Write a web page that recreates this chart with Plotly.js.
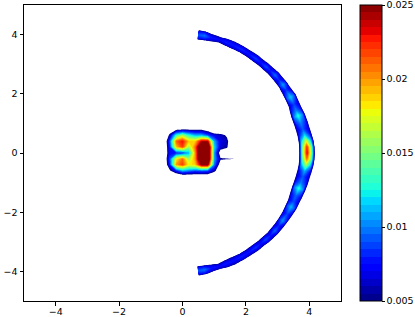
<!DOCTYPE html>
<html>
<head>
<meta charset="utf-8">
<script src="https://cdn.plot.ly/plotly-3.0.1.min.js"></script>
<style>html,body{margin:0;padding:0;background:#fff;}#chart{width:415px;height:317px;}</style>
</head>
<body>
<div id="chart"></div>
<script>
// ---------- DATA ----------
// central blob: values on a regular grid
const blobX = [-0.6,-0.4,-0.2,0,0.2,0.4,0.6,0.8,1.0,1.2,1.4,1.6,1.8];
const blobY = [-0.8,-0.6,-0.4,-0.2,0,0.2,0.4,0.6,0.8,1.0];
const blobZ = [
  [0,0,0.001,0.002,0.002,0.002,0.002,0.002,0.001,0,0,0,0],
  [0,0.0045,0.008,0.011,0.010,0.009,0.0095,0.009,0.006,0.002,0,0,0],
  [0.001,0.008,0.020,0.022,0.018,0.019,0.025,0.025,0.010,0.003,0.001,0,0],
  [0.001,0.009,0.018,0.021,0.016,0.020,0.030,0.030,0.011,0.0054,0.0053,0.0051,0],
  [0.001,0.0075,0.008,0.0085,0.011,0.020,0.030,0.030,0.011,0.003,0.002,0.001,0],
  [0.001,0.008,0.019,0.022,0.016,0.021,0.030,0.030,0.012,0.0065,0.0055,0.001,0],
  [0.001,0.009,0.021,0.023,0.019,0.019,0.024,0.024,0.011,0.0068,0.006,0.001,0],
  [0,0.006,0.013,0.016,0.013,0.011,0.011,0.009,0.007,0.0062,0.0045,0,0],
  [0,0.002,0.004,0.0045,0.0045,0.0045,0.0045,0.003,0,0,0,0,0],
  [0,0,0,0,0,0,0,0,0,0,0,0,0]
];

// arc: samples along the arc (angle in degrees), centre value, shoulder value,
// centre radius and half-width of the band
const arcTheta = [-83,-80,-77,-73,-70,-66,-62,-58,-54,-51,-48,-45,-42,-39,-36,-32,-28,-25,-22,-18,
  -15,-12,-9,-6,-3,0,3,6,9,12,15,19,22,25,29,33,36,39,42,45,48,51,54,58,62,66,70,73,77,80,83];
const arcPeak = [0.0092,0.0098,0.0080,0.0075,0.0080,0.0078,0.0082,0.0078,0.0086,0.0078,
  0.0090,0.0080,0.0095,0.0082,0.0105,0.0088,0.0112,0.0090,0.0095,0.0130,
  0.0100,0.0092,0.0110,0.0160,0.0210,0.0235,0.0225,0.0175,0.0118,0.0092,
  0.0100,0.0130,0.0100,0.0088,0.0116,0.0086,0.0106,0.0082,0.0096,0.0080,
  0.0090,0.0078,0.0087,0.0078,0.0084,0.0080,0.0082,0.0075,0.0080,0.0098,0.0092];
const arcShoulder = [0.0074,0.0078,0.0064,0.0060,0.0064,0.0062,0.0066,0.0062,0.0069,0.0062,
  0.0072,0.0064,0.0076,0.0066,0.0084,0.0070,0.0090,0.0072,0.0076,0.0100,
  0.0080,0.0070,0.0078,0.0110,0.0140,0.0150,0.0145,0.0115,0.0082,0.0070,
  0.0080,0.0100,0.0080,0.0070,0.0093,0.0069,0.0085,0.0066,0.0077,0.0064,
  0.0072,0.0062,0.0070,0.0062,0.0067,0.0064,0.0066,0.0060,0.0064,0.0078,0.0074];
const arcRadius = [4.01,4.01,4.0,4.0,3.99,3.98,3.97,3.95,3.94,3.93,
  3.93,3.93,3.92,3.91,3.90,3.89,3.88,3.87,3.86,3.86,
  3.87,3.88,3.90,3.92,3.93,3.93,3.93,3.92,3.90,3.88,
  3.87,3.86,3.86,3.88,3.90,3.90,3.92,3.92,3.93,3.93,
  3.93,3.93,3.94,3.95,3.97,3.98,3.99,4.0,4.0,4.02,4.02];
const arcHalf = [0.24,0.22,0.20,0.155,0.20,0.22,0.19,0.20,0.20,0.20,
  0.20,0.21,0.21,0.23,0.21,0.25,0.25,0.28,0.30,0.29,
  0.32,0.34,0.33,0.30,0.29,0.29,0.29,0.30,0.32,0.34,
  0.32,0.29,0.29,0.28,0.25,0.25,0.21,0.23,0.21,0.21,
  0.20,0.20,0.20,0.20,0.19,0.21,0.19,0.155,0.20,0.22,0.24];
const arcOffsets = [-1,-0.5,0,0.5,1];

const levelStart = 0.005, levelEnd = 0.025, levelStep = 0.0005;
const cbTickVals = [0.005,0.01,0.015,0.02,0.025];
const cbTickText = ['0.005','0.01','0.015','0.02','0.025'];
const xTicks = [-4,-2,0,2,4];
const yTicks = [-4,-2,0,2,4];

// ---------- COLOURS (jet, 40 discrete bands) ----------
function interp(pts, q){
  for (let i=1;i<pts.length;i++){
    if (q<=pts[i][0]){
      const [x0,y0]=pts[i-1],[x1,y1]=pts[i];
      return y0+(y1-y0)*(q-x0)/(x1-x0);
    }
  }
  return pts[pts.length-1][1];
}
function jet(q){
  const r=interp([[0,0],[0.35,0],[0.66,1],[0.89,1],[1,0.5]],q);
  const g=interp([[0,0],[0.125,0],[0.375,1],[0.64,1],[0.91,0],[1,0]],q);
  const b=interp([[0,0.5],[0.11,1],[0.34,1],[0.65,0],[1,0]],q);
  return 'rgb('+Math.round(r*255)+','+Math.round(g*255)+','+Math.round(b*255)+')';
}
const nBands = Math.round((levelEnd-levelStart)/levelStep);
const bandColors = [];
for (let k=0;k<nBands;k++) bandColors.push(jet((k+0.5)/nBands));

// contour fill colourscale: plotly maps band k to (k+1)/(nBands+1), below start to 0
const nc = nBands+1;
const contourScale = [[0,'#ffffff'],[0.5/nc,'#ffffff']];
for (let k=0;k<nBands;k++){
  contourScale.push([(k+0.5)/nc,bandColors[k]]);
  contourScale.push([Math.min(1,(k+1.5)/nc),bandColors[k]]);
}
contourScale.push([1,bandColors[nBands-1]]);

// colourbar colourscale: stepped
const cbScale = [];
for (let k=0;k<nBands;k++){
  cbScale.push([k/nBands,bandColors[k]]);
  cbScale.push([(k+1)/nBands,bandColors[k]]);
}

// ---------- BUILD ARC GRID ----------
const arcA = arcOffsets.map((_,i)=>i);
const arcXs = [], arcYs = [], arcZ = [];
for (let j=0;j<arcTheta.length;j++){
  const th = arcTheta[j]*Math.PI/180;
  const rx=[], ry=[];
  for (let i=0;i<arcOffsets.length;i++){
    const r = arcRadius[j]+arcOffsets[i]*arcHalf[j];
    rx.push(r*Math.cos(th)); ry.push(r*Math.sin(th));
  }
  arcXs.push(rx); arcYs.push(ry);
  arcZ.push([0,arcShoulder[j],arcPeak[j],arcShoulder[j],0]);
}

const contoursSpec = {start:levelStart,end:levelEnd,size:levelStep,coloring:'fill',showlines:false};
const hiddenAxis = {showgrid:false,showline:false,showticklabels:'none',startline:false,endline:false,
  minorgridcount:0,smoothing:0,color:'rgba(0,0,0,0)',gridcolor:'rgba(0,0,0,0)'};

const FONT = {family:'DejaVu Sans',size:9.5,color:'#000'};

const traces = [
  {type:'contour',x:blobX,y:blobY,z:blobZ,autocontour:false,contours:contoursSpec,
   line:{width:0,smoothing:0},colorscale:contourScale,showscale:false,hoverinfo:'skip'},
  {type:'carpet',carpet:'arc',a:arcA,b:arcTheta,x:arcXs,y:arcYs,aaxis:hiddenAxis,baxis:hiddenAxis},
  {type:'contourcarpet',carpet:'arc',a:arcA,b:arcTheta,z:arcZ,autocontour:false,contours:contoursSpec,
   line:{width:0,smoothing:0},colorscale:contourScale,showscale:false,hoverinfo:'skip'},
  {type:'scatter',mode:'markers',x:[null],y:[null],hoverinfo:'skip',showlegend:false,
   marker:{color:[levelStart],cmin:levelStart,cmax:levelEnd,colorscale:cbScale,showscale:true,
     colorbar:{x:1.0615,xanchor:'left',xpad:0,ypad:0,y:0.5,yanchor:'middle',len:1,lenmode:'fraction',
       thickness:22,thicknessmode:'pixels',outlinewidth:1,outlinecolor:'#000',
       ticks:'outside',ticklen:2.5,tickwidth:1,tickcolor:'#000',ticklabeloverflow:'allow',
       tickmode:'array',tickvals:cbTickVals,ticktext:cbTickText,
       tickfont:FONT}}}
];

const axisBase = {showgrid:false,zeroline:false,showline:true,mirror:true,linecolor:'#000',linewidth:1,
  ticks:'outside',ticklen:3.5,tickwidth:1,tickcolor:'#000',automargin:false,tickfont:FONT};

const layout = {
  width:415,height:317,margin:{l:24,r:74,t:5,b:16,pad:0,autoexpand:false},
  paper_bgcolor:'#fff',plot_bgcolor:'#fff',showlegend:false,
  font:FONT,
  xaxis:Object.assign({},axisBase,{range:[-5,5],tickmode:'array',tickvals:xTicks,ticklabelstandoff:-2}),
  yaxis:Object.assign({},axisBase,{range:[-5,5],tickmode:'array',tickvals:yTicks})
};

Plotly.newPlot('chart',traces,layout,{displayModeBar:false,staticPlot:true});
</script>
</body>
</html>
